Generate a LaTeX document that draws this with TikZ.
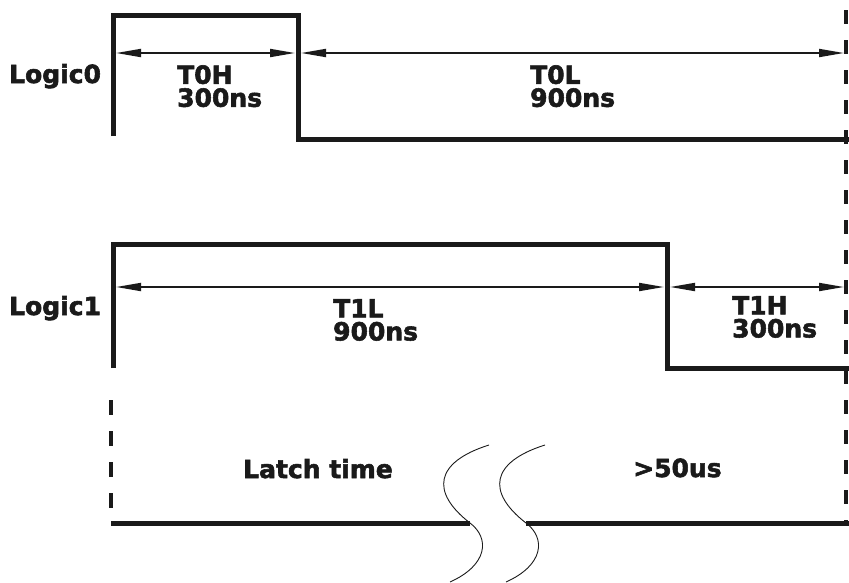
\documentclass[tikz,border=0pt]{standalone}
\usepackage{fontspec}
\setmainfont{DejaVu Sans}[BoldFeatures={FakeBold=2.2}]
\usepackage{xcolor}
\usetikzlibrary{arrows.meta, calc}
\definecolor{inkblack}{HTML}{1A1A1A}
\definecolor{shadegray}{HTML}{A0A0A0}

\tikzset{
  wave/.style={draw=inkblack, line width=5pt, line join=miter},
  waveshade/.style={draw=shadegray, line width=2pt, xshift=3.2pt, yshift=-3.2pt},
  dimline/.style={draw=inkblack, line width=1.8pt,
    {Triangle[length=25pt, width=8pt]}-{Triangle[length=25pt, width=8pt]}},
  guide/.style={draw=inkblack, line width=4pt, dash pattern=on 14pt off 16pt},
  lbl/.style={inner sep=0pt, text=inkblack},
}

\begin{document}
\begin{tikzpicture}[x=1pt, y=-1pt, font=\bfseries\fontsize{25}{23}\selectfont]
  \useasboundingbox (0,0) rectangle (849,582);

  % Logic0 waveform
  \coordinate (a0) at (113,136);
  \coordinate (a1) at (113,15);
  \coordinate (a2) at (298,15);
  \coordinate (a3) at (298,139);
  \coordinate (a4) at (849,139);
  \draw[waveshade] (a0) -- (a1) -- (a2) -- (a3) -- (a4);
  \draw[wave] (a0) -- (a1) -- (a2) -- (a3) -- (a4);

  \coordinate (t0h-l) at (116,53);
  \coordinate (t0h-r) at (295,53);
  \coordinate (t0l-l) at (301,53);
  \coordinate (t0l-r) at (844,53);
  \draw[dimline] (t0h-l) -- (t0h-r);
  \draw[dimline] (t0l-l) -- (t0l-r);

  \node[lbl, anchor=base west] (logic0) at (9,83) {Logic0};
  \node[lbl, anchor=north west, align=left] (t0h) at (177,65) {T0H\\300ns};
  \node[lbl, anchor=north west, align=left] (t0l) at (530,65) {T0L\\900ns};

  % Logic1 waveform
  \coordinate (b0) at (113,368);
  \coordinate (b1) at (113,244);
  \coordinate (b2) at (667,244);
  \coordinate (b3) at (667,368);
  \coordinate (b4) at (849,368);
  \draw[waveshade] (b0) -- (b1) -- (b2) -- (b3) -- (b4);
  \draw[wave] (b0) -- (b1) -- (b2) -- (b3) -- (b4);

  \coordinate (t1l-l) at (116,287);
  \coordinate (t1l-r) at (664,287);
  \coordinate (t1h-l) at (670,287);
  \coordinate (t1h-r) at (844,287);
  \draw[dimline] (t1l-l) -- (t1l-r);
  \draw[dimline] (t1h-l) -- (t1h-r);

  \node[lbl, anchor=base west] (logic1) at (9,315) {Logic1};
  \node[lbl, anchor=north west, align=left] (t1l) at (333,299) {T1L\\900ns};
  \node[lbl, anchor=north west, align=left] (t1h) at (732,296) {T1H\\300ns};

  % latch
  \coordinate (r-top) at (846,10);
  \coordinate (r-bot) at (846,522);
  \draw[guide] (r-top) -- (r-bot);
  \coordinate (l-top) at (111,400);
  \coordinate (l-bot) at (111,520);
  \draw[guide, dash pattern=on 15pt off 16pt] (l-top) -- (l-bot);

  \coordinate (c0) at (111,523);
  \coordinate (c1) at (470,523);
  \coordinate (c2) at (526,523);
  \coordinate (c3) at (849,523);
  \draw[waveshade] (c0) -- (c1) (c2) -- (c3);
  \draw[wave] (c0) -- (c1);
  \draw[wave] (c2) -- (c3);

  \foreach \dx in {0,56}
    \draw[inkblack, line width=0.9pt, xshift=\dx]
      (489,445) .. controls (435,462) and (430,492) .. (470,523)
                .. controls (490,538) and (488,565) .. (450,582);

  \node[lbl, anchor=base west] (latch) at (243,478) {Latch time};
  \node[lbl, anchor=base west] (min50) at (633,477) {>50us};
\end{tikzpicture}
\end{document}
